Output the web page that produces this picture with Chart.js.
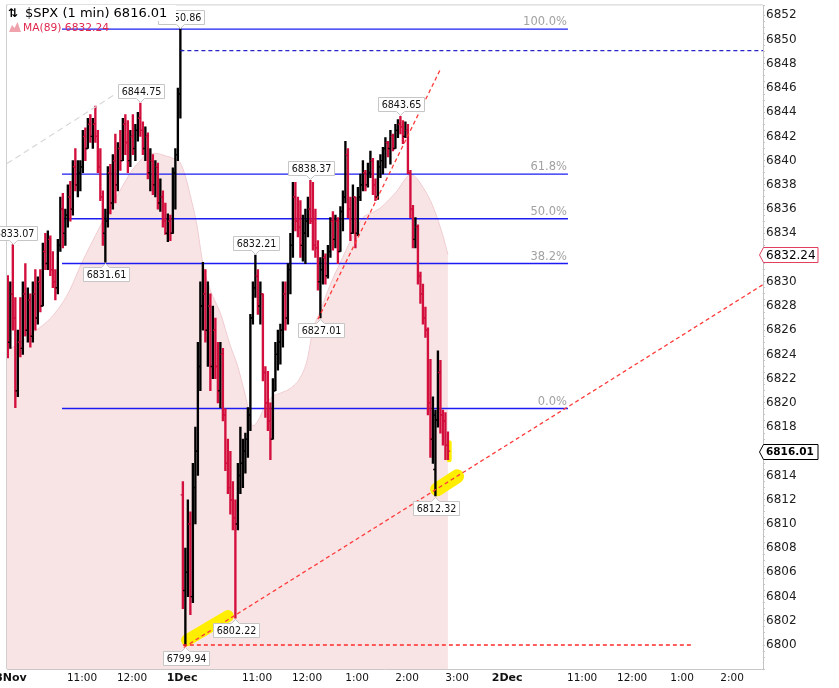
<!DOCTYPE html>
<html><head><meta charset="utf-8">
<script src="https://cdn.jsdelivr.net/npm/chart.js@4.4.1/dist/chart.umd.min.js"></script>
<style>html,body{margin:0;padding:0;background:#fff;overflow:hidden}</style>
</head><body>
<canvas id="c" width="839" height="688"></canvas>
<script>
// ---- DATA (3-minute bars; minute index from 28 Nov 9:30, session time) ----
const opens = [6829,6825,6829,6827,6821,6825,6824.5,6829,6826,6828.5,6825.5,6829,6827,6830,6828,6832.5,6831.5,6833.5,6831,6830,
6829.5,6833,6836,6834,6835.5,6837,6836,6839.5,6838,6839,6839.5,6842,6841,6843,6842,6843,6842,6839.5,6837,6834,
6835,6839,6836.5,6840,6838,6841,6840,6843,6841.5,6840,6842,6841,6842.5,6843.5,6842.5,6841,6842,6839,6840,6838,
6839.5,6836.5,6837,6835,6834,6835,6834,6839,6840.5,6845.5,
6812.4,6804.5,6806,6810,6804,6813,6816,6823,6828,6829,6826,6828,6823,6826,6823,6821,6824,6819,6815,6813,
6812,6810.5,6810,6814,6815,6816,6817,6819,6827,6829.5,6830.5,6828,6829,6822.5,6820,6818.5,6817,6821,6824,6825,
6826,6829,6827,6831,6833,6837,6835,6834.5,6833,6834,6835,6836,6835,6833,6832.8,6830,6831,6832,6830.5,6832.5,
6835,6833.5,6835,6832.5,6835.8,6837,6840.5,6836,6834,6837,6834,6837,6838,6839,6838,6839,6840,6838,6837,6839.5,
6840,6841,6841.5,6841,6842,6841,6842.5,6843,6842.8,6842,6842.5,6839,6836,6833.5,6834.5,6830.5,6829,6827,6826,6820,
6817,6814.5,6818.6,6822.5,6819,6818.5,6816.5];
const highs = [6830.5,6830,6833.07,6828.7,6826,6828.7,6830,6831.5,6829.5,6829,6830,6831,6830.4,6831,6833.2,6834,6834.2,6833.8,6832.5,6831,
6833.5,6837,6837.3,6836,6838,6838.3,6840,6841,6840,6840,6842.5,6842.7,6843.5,6843.8,6843.5,6844.5,6842.5,6841,6837.5,6836,
6839.5,6839.7,6840.5,6842.2,6841.5,6842.5,6843.5,6843.8,6843.3,6842.5,6843.8,6843,6844,6844.75,6843.2,6842.8,6842.3,6841,6840.5,6840,
6839.8,6838.5,6837.5,6836.5,6835.6,6835.5,6839.4,6841,6846,6850.86,
6813.5,6808,6812,6811,6815,6818,6825,6830,6831.6,6831,6830,6829,6828,6827,6825,6825,6824.5,6819.5,6817,6816,
6813.5,6812,6815,6818,6817,6817.5,6819.6,6827.3,6830,6832.21,6831,6830,6829,6823,6822.6,6820,6822,6825,6826,6826.5,
6830,6830,6831.5,6834,6838.2,6838.2,6837,6836.7,6835.5,6836,6837,6838.37,6838.2,6836,6833.4,6832,6832.6,6832.3,6833,6835.3,
6835.8,6835.5,6835.3,6836.2,6837.5,6841.6,6841,6837,6838,6837,6837.8,6838.9,6840,6839.2,6839.8,6840.8,6840.2,6838.5,6840,6840.5,
6841.1,6841.9,6841.6,6842.5,6842.2,6843,6843.4,6843.65,6843.3,6843.2,6843,6839.2,6836.3,6835.3,6834.7,6830.8,6829.8,6827.9,6826.2,6823.6,
6820.5,6819.4,6824.3,6823.5,6819.4,6819.2,6817.6];
const lows = [6823.7,6824.5,6826,6819.6,6820.5,6823.8,6824,6825.5,6825,6824.6,6825,6826,6826.5,6827.5,6828,6831,6831,6830.5,6829.5,6828.5,
6829,6832.5,6832.8,6833,6834.5,6835,6835.5,6837.5,6837,6837.5,6839,6840,6841,6841.5,6841,6841.5,6839,6836.7,6833,6831.61,
6834.5,6835.6,6836,6836.5,6837.5,6839.2,6840,6840.5,6839,6839.5,6840.5,6840,6841.6,6842,6840.5,6840,6838.5,6837.5,6837.2,6837,
6836,6835.8,6834.5,6833.9,6833.3,6833.4,6834,6836,6840,6843.5,
6803,6799.94,6804,6802.5,6803.5,6810,6814,6821,6826,6825,6823,6821,6822,6822,6820,6819.6,6818.5,6814.4,6812.5,6810.8,
6809.5,6802.22,6809.5,6812.5,6813,6814.2,6815.5,6817.7,6826.5,6828.7,6827.3,6826.5,6821.8,6818.8,6817.7,6815.3,6817,6821,6822.7,6823.2,
6824.6,6826,6826.5,6829,6832,6834.2,6833.7,6832,6831.7,6831.5,6833.7,6834.8,6832.6,6832,6829.3,6827.01,6829.8,6829.8,6830.3,6832,
6832.6,6832.8,6831.5,6832.5,6834.2,6836.5,6835.3,6833.4,6834,6832.8,6833.8,6836.7,6837.5,6837.5,6837.8,6838.6,6837.2,6836.7,6836.8,6838.6,
6838.9,6839.4,6840.3,6839.7,6840.8,6841,6841.9,6842.2,6841.4,6841.9,6838.9,6835.3,6832.8,6832.8,6829.8,6828.2,6826.5,6825.4,6819,6815.5,
6815,6812.32,6818,6817.5,6816.5,6815.3,6815.3];
const closes = [6825,6829,6827,6821,6825,6824.5,6829,6826,6828.5,6825.5,6829,6827,6830,6828,6832.5,6831.5,6833.5,6831,6830,6829.5,
6833,6836,6834,6835.5,6837,6836,6839.5,6838,6839,6839.5,6842,6841,6843,6842,6843,6842,6839.5,6837,6834,6835,
6839,6836.5,6840,6838,6841,6840,6843,6841.5,6840,6842,6841,6842.5,6843.5,6842.5,6841,6842,6839,6840,6838,6839.5,
6836.5,6837,6835,6834,6835,6834,6839,6840.5,6845.5,6849.09,
6804.5,6806,6810,6804,6813,6816,6823,6828,6829,6826,6828,6823,6826,6823,6821,6824,6819,6815,6813,6812,
6810.5,6810,6814,6815,6816,6817,6819,6827,6829.5,6830.5,6828,6829,6822.5,6820,6818.5,6817,6821,6824,6825,6826,
6829,6827,6831,6833,6837,6835,6834.5,6833,6834,6835,6836,6835,6833,6832.8,6830,6831,6832,6830.5,6832.5,6835,
6833.5,6835,6832.5,6835.8,6837,6840.5,6836,6834,6837,6834,6837,6838,6839,6838,6839,6840,6838,6837,6839.5,6840,
6841,6841.5,6841,6842,6841,6842.5,6843,6842.8,6842,6842.5,6839,6836,6833.5,6834.5,6830.5,6829,6827,6826,6820,6817,
6819,6818.6,6822.5,6819,6818.5,6816.5,6816.01];
const barMinutes = opens.map((_, i) => 1 + 3 * i);

const maMinutes = [0,16,31,43,55,67,76,88,100,112,124,132,142,151,160,168,178,190,202,208,214,220,228,235,244,256,268,276,286,295,
301,310,318,328,340,352,360,367,376,388,400,408,418,427,438,448,460,468,478,484,492,499,508,516,523,529];
const maValues = [6824.3,6825.0,6825.8,6826.4,6827.2,6828.3,6829.4,6831.3,6833.0,6834.6,6836.3,6837.1,6838.3,6839.3,6840.0,6840.6,6840.6,6840.4,6840.1,6839.8,
6838.7,6837.1,6834.6,6831.5,6829.3,6827.4,6824.7,6823.2,6820.6,6818.1,6818.5,6819.8,6820.5,6820.8,6821.2,6822.1,6823.5,6826.0,6827.6,6829.8,
6831.6,6832.8,6834.2,6835.3,6835.7,6836.1,6836.9,6837.5,6838.5,6838.9,6838.5,6837.8,6836.7,6835.3,6833.8,6832.24];

const fibLevels = [6850.86, 6838.89, 6835.20, 6831.50, 6819.53];
const fibLabels = ['100.0%', '61.8%', '50.0%', '38.2%', '0.0%'];
const fibRange = [66, 673];

const prevClose = 6849.09, prevCloseRange = [208, 907];
const supportLevel = 6800, supportRange = [211, 823];
const trendLow = [[212, 6799.8], [907, 6829.76]];
const trendRise = [[373, 6826.9], [520, 6847.55]];
const trendOld = [[0, 6839.76], [130, 6845.49]];
const highlightA = [[216, 6800.4], [265, 6802.39]];
const highlightB = [[516, 6812.86], [540, 6813.93]];
const highlightC = [[530.5, 6816.7], [530.5, 6815.3]];

const calloutBars = [2, 39, 53, 69, 71, 91, 99, 121, 125, 157, 171];
const calloutSide = ['high','low','high','high','low','low','high','high','low','high','low'];

const tickMinutes = [0, 90, 150, 210, 300, 360, 420, 480, 540, 600, 690, 750, 810, 870];
const tickLabels = ['28Nov','11:00','12:00','1Dec','11:00','12:00','1:00','2:00','3:00','2Dec','11:00','12:00','1:00','2:00'];
const boldTicks = ['28Nov','1Dec','2Dec'];

const lastPrice = 6816.01, maLast = 6832.24;

// ---- CHART ----
const FONT = '"DejaVu Sans", Verdana, sans-serif';
const upColor = '#000000', downColor = '#d20f3d';
const barColors = closes.map((c, i) => c >= opens[i] ? upColor : downColor);
const seg = (pts) => pts.map(p => ({x: p[0], y: p[1]}));

const datasets = [
  {type:'line', data: maMinutes.map((m,i)=>({x:m, y:maValues[i]})), fill:'start', backgroundColor:'#f8e4e5',
   borderColor:'#f0ccd1', borderWidth:1, pointRadius:0, cubicInterpolationMode:'monotone', order:100},
];
fibLevels.forEach(l => datasets.push({type:'line', data: seg([[fibRange[0], l], [fibRange[1], l]]),
  borderColor:'#1c1cf2', borderWidth:1.4, pointRadius:0, order:60}));
[[highlightA, 12], [highlightB, 14], [highlightC, 5]].forEach(([h, w]) => datasets.push({type:'line', data: seg(h),
  borderColor:'#ffee00', borderWidth:w, borderCapStyle:'round', pointRadius:0, order:50}));
datasets.push({type:'bar', data: barMinutes.map((t,i)=>({x:t, y:[lows[i], highs[i]]})), backgroundColor: barColors,
  barThickness:1.7, grouped:false, order:40});
datasets.push({type:'line', showLine:false, data: barMinutes.map((t,i)=>({x:t-1.25, y:opens[i]})), pointStyle:'line',
  pointRadius:1.2, pointBorderWidth:1.4, pointBorderColor: barColors, pointBackgroundColor: barColors, order:30});
datasets.push({type:'line', showLine:false, data: barMinutes.map((t,i)=>({x:t+1.25, y:closes[i]})), pointStyle:'line',
  pointRadius:1.2, pointBorderWidth:1.4, pointBorderColor: barColors, pointBackgroundColor: barColors, order:30});
datasets.push({type:'line', data: seg([[prevCloseRange[0], prevClose], [prevCloseRange[1], prevClose]]),
  borderColor:'#2424c8', borderWidth:1.2, borderDash:[4,3], pointRadius:0, order:10});
datasets.push({type:'line', data: seg([[supportRange[0], supportLevel], [supportRange[1], supportLevel]]),
  borderColor:'#ff2a2a', borderWidth:1.3, borderDash:[4,3], pointRadius:0, order:10});
datasets.push({type:'line', data: seg(trendLow), borderColor:'#ff3a3a', borderWidth:1.3, borderDash:[4,3], pointRadius:0, order:10});
datasets.push({type:'line', data: seg(trendRise), borderColor:'#ff3a3a', borderWidth:1.3, borderDash:[4,3], pointRadius:0, order:10});
datasets.push({type:'line', data: seg(trendOld), borderColor:'#d8d8d8', borderWidth:1.2, borderDash:[6,4], pointRadius:0, order:10});

function callout(ctx, px, py, text, below) {
  ctx.font = '9.6px ' + FONT;
  const w = Math.round(ctx.measureText(text).width + 6), h = 14, tip = 5;
  px = Math.round(px) + 0.5;
  const bx = Math.round(px - w / 2) + 0.5;
  const by = below ? Math.round(py + tip) + 0.5 : Math.round(py - tip - h) + 0.5;
  ctx.save();
  ctx.fillStyle = '#fff'; ctx.strokeStyle = '#c6c6c6'; ctx.lineWidth = 1;
  ctx.beginPath();
  if (!below) {
    ctx.moveTo(bx, by); ctx.lineTo(bx + w, by); ctx.lineTo(bx + w, by + h); ctx.lineTo(px + 4, by + h);
    ctx.lineTo(px, by + h + tip - 1); ctx.lineTo(px - 4, by + h); ctx.lineTo(bx, by + h); ctx.closePath();
  } else {
    ctx.moveTo(bx, by); ctx.lineTo(px - 4, by); ctx.lineTo(px, by - tip + 1); ctx.lineTo(px + 4, by);
    ctx.lineTo(bx + w, by); ctx.lineTo(bx + w, by + h); ctx.lineTo(bx, by + h); ctx.closePath();
  }
  ctx.fill(); ctx.stroke();
  ctx.fillStyle = '#111'; ctx.textAlign = 'center'; ctx.textBaseline = 'middle';
  ctx.fillText(text, bx + w / 2, by + h / 2 + 0.5);
  ctx.restore();
}

function priceTag(ctx, py, text, border, bold) {
  ctx.save();
  ctx.font = (bold ? 'bold 10.5px ' : '12px ') + FONT;
  const x0 = 763, w = 55, h = 15;
  const top = Math.round(py - h / 2) + 0.5;
  ctx.fillStyle = '#fff'; ctx.strokeStyle = border; ctx.lineWidth = 1;
  ctx.beginPath();
  ctx.moveTo(x0 - 3.5, top + h / 2); ctx.lineTo(x0 + 0.5, top); ctx.lineTo(x0 + w, top);
  ctx.lineTo(x0 + w, top + h); ctx.lineTo(x0 + 0.5, top + h); ctx.closePath();
  ctx.fill(); ctx.stroke();
  ctx.fillStyle = '#000'; ctx.textAlign = 'left'; ctx.textBaseline = 'middle';
  ctx.fillText(text, x0 + 3, top + h / 2 + 0.5);
  ctx.restore();
}

const overlay = {
  id: 'overlay',
  beforeDraw(chart) {
    const {ctx, chartArea: a} = chart;
    ctx.save();
    ctx.strokeStyle = '#cfcfcf'; ctx.lineWidth = 1;
    ctx.beginPath();
    ctx.moveTo(a.left - 0.5, a.bottom); ctx.lineTo(a.left - 0.5, a.top - 0.5); ctx.lineTo(a.right, a.top - 0.5);
    ctx.stroke();
    ctx.restore();
  },
  afterDatasetsDraw(chart) {
    const {ctx, scales: {x, y}} = chart;
    ctx.save();
    ctx.font = '11.5px ' + FONT; ctx.fillStyle = '#a2a2a2'; ctx.textAlign = 'right'; ctx.textBaseline = 'alphabetic';
    fibLevels.forEach((l, i) => ctx.fillText(fibLabels[i], x.getPixelForValue(fibRange[1]) - 1, y.getPixelForValue(l) - 4));
    ctx.restore();
    calloutBars.forEach((k, i) => {
      const below = calloutSide[i] === 'low';
      const v = below ? lows[k] : highs[k];
      callout(ctx, x.getPixelForValue(barMinutes[k]), y.getPixelForValue(v), v.toFixed(2), below);
    });
  },
  afterDraw(chart) {
    const {ctx, scales: {y}} = chart;
    ctx.save();
    ctx.fillStyle = '#fff';
    ctx.fillRect(8, 5, 168, 16);
    ctx.fillStyle = '#000'; ctx.textBaseline = 'middle'; ctx.textAlign = 'left';
    ctx.font = 'bold 12px ' + FONT;
    ctx.fillText('⇅', 8, 13.5);
    ctx.font = '13px ' + FONT;
    ctx.fillText('$SPX (1 min) ' + lastPrice.toFixed(2), 25, 13.5);
    ctx.fillStyle = '#efa3ad';
    ctx.beginPath();
    ctx.moveTo(9, 32); ctx.lineTo(12, 25); ctx.lineTo(14.5, 28); ctx.lineTo(17.5, 22); ctx.lineTo(21, 32); ctx.closePath();
    ctx.fill();
    ctx.font = '10.7px ' + FONT; ctx.fillStyle = '#e0284e';
    ctx.fillText('MA(89) ' + maLast.toFixed(2), 23, 28);
    ctx.restore();
    priceTag(ctx, y.getPixelForValue(maLast), maLast.toFixed(2), '#e0405e', false);
    priceTag(ctx, y.getPixelForValue(lastPrice), lastPrice.toFixed(2), '#000', true);
  }
};

new Chart(document.getElementById('c'), {
  type: 'line',
  data: {datasets},
  plugins: [overlay],
  options: {
    responsive: false, animation: false, devicePixelRatio: 1,
    layout: {padding: {left: 7, top: 4, right: 0, bottom: 0}},
    plugins: {legend: {display: false}, tooltip: {enabled: false}},
    scales: {
      x: {
        type: 'linear', position: 'bottom', min: 0, max: 907, offset: false,
        grid: {display: false, drawTicks: false, offset: false},
        border: {display: true, color: '#c8c8c8'},
        afterBuildTicks: s => { s.ticks = tickMinutes.map(v => ({value: v})); },
        afterFit: s => { s.height = 19; s.paddingLeft = 0; s.paddingRight = 0; },
        ticks: {
          autoSkip: false, maxRotation: 0, minRotation: 0, padding: 3, color: '#111',
          callback: v => { const i = tickMinutes.indexOf(v); return i >= 0 ? tickLabels[i] : ''; },
          font: c => {
            const i = c.tick ? tickMinutes.indexOf(c.tick.value) : -1;
            const b = i >= 0 && boldTicks.includes(tickLabels[i]);
            return {family: FONT, size: b ? 11 : 10.5, weight: b ? 'bold' : 'normal'};
          }
        }
      },
      y: {
        position: 'right', min: 6798.02, max: 6852.82,
        grid: {drawOnChartArea: false, tickLength: 2, color: '#c4c4c4'},
        border: {display: true, color: '#c4c4c4'},
        afterFit: s => { s.width = 76; s.paddingTop = 0; s.paddingBottom = 0; },
        ticks: {
          stepSize: 0.5, autoSkip: false, padding: 1, color: '#222',
          font: {family: FONT, size: 12},
          callback: v => { const r = Math.round(v); return (Math.abs(v - r) < 1e-6 && r % 2 === 0) ? String(r) : ''; }
        }
      }
    }
  }
});
</script>
</body></html>
